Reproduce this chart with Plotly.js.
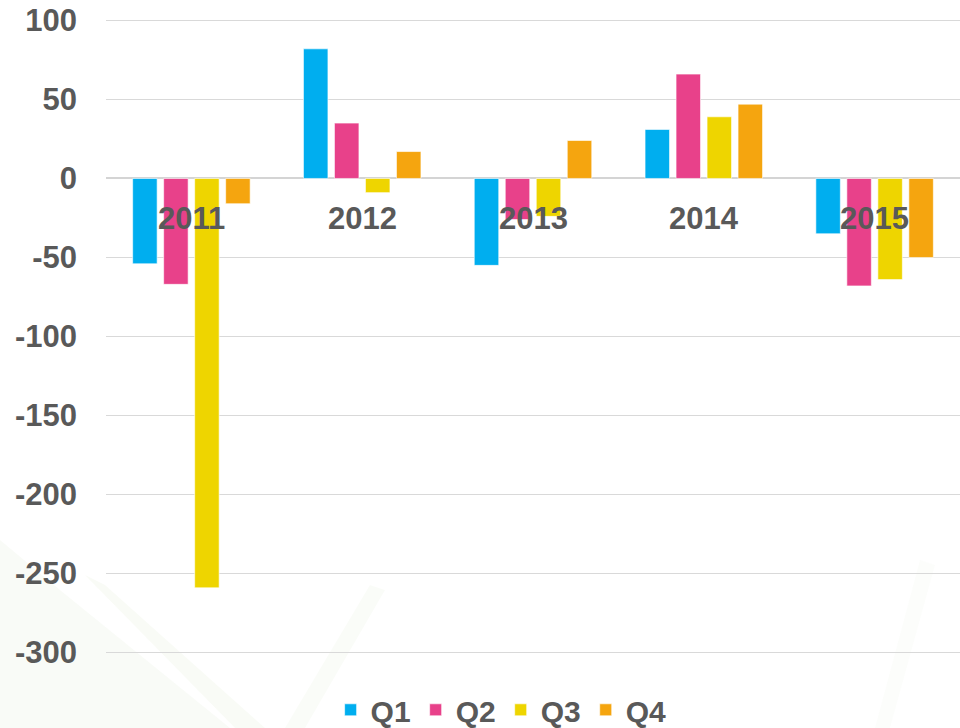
<!DOCTYPE html>
<html>
<head>
<meta charset="utf-8">
<script src="https://cdn.plot.ly/plotly-3.0.1.min.js"></script>
<style>html,body{margin:0;padding:0;background:#fff;}#chart{width:960px;height:728px;}</style>
</head>
<body>
<div id="chart"></div>
<script>
var years = ['2011', '2012', '2013', '2014', '2015'];
var seriesNames = ['Q1', 'Q2', 'Q3', 'Q4'];
var q1 = [-54, 82, -55, 31, -35];
var q2 = [-67, 35, -26, 66, -68];
var q3 = [-259, -9, -24, 39, -64];
var q4 = [-16, 17, 24, 47, -50];
var yTicks = [100, 50, 0, -50, -100, -150, -200, -250, -300];

var colors = ['#00AEEF', '#E8418A', '#EED500', '#F5A50F'];
var allSeries = [q1, q2, q3, q4];
var textColor = '#595959';
var fontFamily = '"Liberation Sans", Arial, sans-serif';

var data = allSeries.map(function (vals, i) {
  return {
    type: 'bar',
    name: seriesNames[i],
    x: years,
    y: vals,
    marker: {color: colors[i], line: {color: 'rgba(255,255,255,0.6)', width: 1}},
    hoverinfo: 'x+y+name'
  };
});

// Category labels drawn at the zero line, over the bars
var annotations = years.map(function (yr, i) {
  return {
    x: i, y: 0, xref: 'x', yref: 'y',
    text: '<b>' + yr + '</b>', showarrow: false,
    yanchor: 'top', yshift: -21,
    font: {family: fontFamily, size: 31, color: textColor}
  };
});

// faint decorative background streaks (paper coords of plot area: x 106..960, y 18..655)
function px(x) { return ((x - 106) / 854).toFixed(4); }
function py(y) { return ((655 - y) / 637).toFixed(4); }
function poly(pts) {
  return 'M' + pts.map(function (p) { return px(p[0]) + ',' + py(p[1]); }).join(' L') + ' Z';
}
var shapes = [
  {type: 'path', xref: 'paper', yref: 'paper', layer: 'below', line: {width: 0},
   fillcolor: 'rgba(200,220,180,0.10)', path: poly([[0, 540], [60, 590], [230, 728], [0, 728]])},
  {type: 'path', xref: 'paper', yref: 'paper', layer: 'below', line: {width: 0},
   fillcolor: 'rgba(205,225,185,0.12)', path: poly([[85, 575], [105, 585], [265, 728], [235, 728]])},
  {type: 'path', xref: 'paper', yref: 'paper', layer: 'below', line: {width: 0},
   fillcolor: 'rgba(215,230,195,0.12)', path: poly([[370, 585], [385, 590], [305, 728], [285, 728]])},
  {type: 'path', xref: 'paper', yref: 'paper', layer: 'below', line: {width: 0},
   fillcolor: 'rgba(225,235,215,0.10)', path: poly([[920, 560], [935, 565], [890, 728], [875, 728]])}
];

var layout = {
  width: 960, height: 728,
  margin: {l: 106, r: 0, t: 18, b: 73, pad: 0},
  paper_bgcolor: '#ffffff',
  plot_bgcolor: 'rgba(0,0,0,0)',
  barmode: 'group',
  bargap: 0.274,
  bargroupgap: 0.21,
  showlegend: true,
  legend: {
    orientation: 'h', xref: 'container', yref: 'container',
    x: 0.522, xanchor: 'center',
    y: 0.025, yanchor: 'middle',
    font: {family: fontFamily, size: 30, color: textColor, weight: 'bold'},
    itemwidth: 30, tracegroupgap: 0,
    bgcolor: 'rgba(0,0,0,0)'
  },
  xaxis: {
    type: 'category',
    categoryarray: years, categoryorder: 'array',
    range: [-0.5, 4.5],
    showticklabels: false,
    showgrid: false, zeroline: false, showline: false, ticks: ''
  },
  yaxis: {
    range: [-301.5, 101.5],
    tickvals: yTicks,
    ticktext: yTicks.map(String),
    showgrid: true, gridcolor: '#d9d9d9', gridwidth: 1.5,
    zeroline: true, zerolinecolor: '#d4d4d4', zerolinewidth: 2,
    showline: false, ticks: '',
    ticklabelstandoff: 28,
    tickfont: {family: fontFamily, size: 31, color: textColor, weight: 'bold'}
  },
  annotations: annotations,
  shapes: shapes
};

Plotly.newPlot('chart', data, layout, {displayModeBar: false, staticPlot: true});
</script>
</body>
</html>
